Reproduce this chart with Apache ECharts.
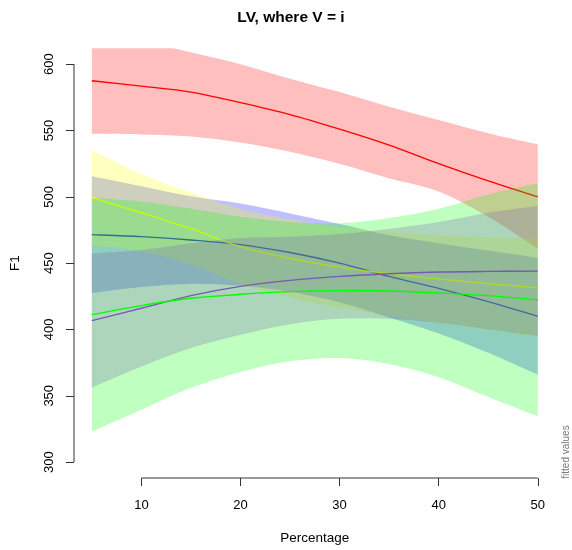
<!DOCTYPE html>
<html>
<head>
<meta charset="utf-8">
<script src="https://cdn.jsdelivr.net/npm/echarts@6/dist/echarts.min.js"></script>
<style>html,body{margin:0;padding:0;background:#fff}#c{width:572px;height:550px}</style>
</head>
<body>
<div id="c"></div>
<script>
// ---- data ----
const percentage = [5, 10, 15, 20, 25, 30, 35, 40, 45, 50];
const xTicks = [10, 20, 30, 40, 50];
const yTicks = [300, 350, 400, 450, 500, 550, 600];

const redFit   = [587.5, 583.5, 579, 571, 562, 551, 539, 525, 512, 500];
const redUpper = [628, 618, 609, 600, 589, 579, 568, 558, 548, 539.6];
const redLower = [547.5, 547, 545.5, 541, 534, 525, 514, 504, 485, 461];

const blueFit   = [471.5, 470, 467.5, 464, 458, 450, 440, 431, 421, 410];
const blueUpper = [515.5, 508, 500.5, 495, 487.5, 479.5, 471, 465, 459.5, 454];
const blueLower = [427.5, 432, 434.5, 433, 428.5, 420.5, 409, 397, 382.5, 366];

const yellowFit   = [499.5, 488, 476, 462.5, 453.5, 447, 442, 438, 434.5, 431.5];
const yellowUpper = [535.5, 517, 503, 491, 483, 477.5, 473.5, 471, 469.5, 468.5];
const yellowLower = [463.5, 459, 449, 434, 424, 416.5, 410.5, 405, 399.5, 394.5];

const purpleFit   = [406.7, 416, 425.5, 432.5, 437, 440, 442, 443.3, 443.8, 444];
const purpleUpper = [457.4, 460, 465, 469, 470, 472, 476, 481, 488, 493];
const purpleLower = [356, 372, 386, 396, 404, 408, 408, 405, 400, 395];

const greenFit   = [411.2, 418, 423.5, 426.5, 428.5, 429.3, 429, 427.5, 425.5, 422.4];
const greenUpper = [499.4, 496.5, 491, 485, 481, 480, 484, 491, 502, 510.3];
const greenLower = [323, 339.5, 356, 368, 376, 378.5, 374, 364, 349, 334.5];

const groups = [
  {name: 'red',    fit: redFit,    up: redUpper,    lo: redLower,    line: '#ff0000', fill: 'rgba(255,0,0,0.25)'},
  {name: 'blue',   fit: blueFit,   up: blueUpper,   lo: blueLower,   line: '#0000ff', fill: 'rgba(0,0,255,0.25)'},
  {name: 'yellow', fit: yellowFit, up: yellowUpper, lo: yellowLower, line: '#ffff00', fill: 'rgba(255,255,0,0.25)'},
  {name: 'purple', fit: purpleFit, up: purpleUpper, lo: purpleLower, line: '#a020f0', fill: 'rgba(160,32,240,0.25)'},
  {name: 'green',  fit: greenFit,  up: greenUpper,  lo: greenLower,  line: '#00ff00', fill: 'rgba(0,255,0,0.25)'}
];

const X_MIN = 3.2, X_MAX = 51.8, Y_MIN = 288, Y_MAX = 612;
const FONT = 'Liberation Sans, Arial, Helvetica, sans-serif';
const AXIS_COLOR = '#333';

// smooth curve (Catmull-Rom as cubic Bezier) through pixel points
function curvePath(pts, start) {
  let d = start ? 'M' + pts[0][0] + ' ' + pts[0][1] : 'L' + pts[0][0] + ' ' + pts[0][1];
  const n = pts.length;
  for (let i = 0; i < n - 1; i++) {
    const p0 = pts[Math.max(i - 1, 0)], p1 = pts[i], p2 = pts[i + 1], p3 = pts[Math.min(i + 2, n - 1)];
    const c1x = p1[0] + (p2[0] - p0[0]) / 6, c1y = p1[1] + (p2[1] - p0[1]) / 6;
    const c2x = p2[0] - (p3[0] - p1[0]) / 6, c2y = p2[1] - (p3[1] - p1[1]) / 6;
    d += ' C' + c1x + ' ' + c1y + ' ' + c2x + ' ' + c2y + ' ' + p2[0] + ' ' + p2[1];
  }
  return d;
}

const series = [];
groups.forEach(g => {
  // confidence band: data rows [x, lower, upper]
  series.push({
    type: 'custom', name: g.name + '-band', silent: true,
    data: percentage.map((x, i) => [x, g.lo[i], g.up[i]]),
    encode: {x: 0, y: [1, 2]},
    renderItem: function (params, api) {
      if (params.dataIndexInside !== 0) return null;
      const n = params.dataInsideLength;
      const up = [], lo = [];
      for (let i = 0; i < n; i++) {
        const x = api.value(0, i);
        lo.push(api.coord([x, api.value(1, i)]));
        up.push(api.coord([x, api.value(2, i)]));
      }
      const d = curvePath(up, true) + ' ' + curvePath(lo.slice().reverse(), false) + ' Z';
      const cs = params.coordSys;
      return {
        type: 'path',
        shape: {pathData: d},
        style: {fill: g.fill, stroke: null},
        clipPath: {type: 'rect', shape: {x: cs.x, y: cs.y, width: cs.width, height: cs.height}}
      };
    }
  });
  // fitted line: data rows [x, fit]
  series.push({
    type: 'custom', name: g.name, silent: true,
    data: percentage.map((x, i) => [x, g.fit[i]]),
    encode: {x: 0, y: 1},
    renderItem: function (params, api) {
      if (params.dataIndexInside !== 0) return null;
      const n = params.dataInsideLength;
      const pts = [];
      for (let i = 0; i < n; i++) pts.push(api.coord([api.value(0, i), api.value(1, i)]));
      const cs = params.coordSys;
      return {
        type: 'path',
        shape: {pathData: curvePath(pts, true)},
        style: {fill: null, stroke: g.line, lineWidth: 1.4},
        clipPath: {type: 'rect', shape: {x: cs.x, y: cs.y, width: cs.width, height: cs.height}}
      };
    }
  });
});
// axis lines (R style: span from first to last tick only)
series.push({
  type: 'line', clip: false, silent: true, showSymbol: false,
  data: [[xTicks[0], Y_MIN], [xTicks[xTicks.length - 1], Y_MIN]],
  lineStyle: {color: AXIS_COLOR, width: 1}
});
series.push({
  type: 'line', clip: false, silent: true, showSymbol: false,
  data: [[X_MIN, yTicks[0]], [X_MIN, yTicks[yTicks.length - 1]]],
  lineStyle: {color: AXIS_COLOR, width: 1}
});

const chart = echarts.init(document.getElementById('c'), null, {renderer: 'canvas'});
chart.setOption({
  animation: false,
  backgroundColor: '#fff',
  textStyle: {fontFamily: FONT},
  title: {
    text: 'LV, where V = i', left: 286, top: 5, textAlign: 'center',
    textStyle: {fontFamily: FONT, fontSize: 15.5, fontWeight: 'bold', color: '#000'}
  },
  grid: {left: 72.5, right: 16.4, top: 48.3, bottom: 68.3, containLabel: false},
  xAxis: {
    type: 'value', min: X_MIN, max: X_MAX,
    name: 'Percentage', nameLocation: 'middle', nameGap: 53,
    nameTextStyle: {fontFamily: FONT, fontSize: 13.5, color: '#000'},
    axisLine: {show: false},
    axisTick: {show: true, inside: false, length: 8, customValues: xTicks, lineStyle: {color: AXIS_COLOR}},
    axisLabel: {customValues: xTicks, margin: 21, fontFamily: FONT, fontSize: 13, color: '#000'},
    splitLine: {show: false}
  },
  yAxis: {
    type: 'value', min: Y_MIN, max: Y_MAX,
    name: 'F1', nameLocation: 'middle', nameGap: 52, nameRotate: 90,
    nameTextStyle: {fontFamily: FONT, fontSize: 13.5, color: '#000'},
    axisLine: {show: false},
    axisTick: {show: true, inside: false, length: 8, customValues: yTicks, lineStyle: {color: AXIS_COLOR}},
    axisLabel: {customValues: yTicks, rotate: 90, margin: 18, fontFamily: FONT, fontSize: 13, color: '#000'},
    splitLine: {show: false}
  },
  graphic: [{
    type: 'text', x: 566, y: 452, rotation: Math.PI / 2,
    style: {text: 'fitted values', fontFamily: FONT, fontSize: 10, fill: '#777', align: 'center', verticalAlign: 'middle'}
  }],
  series: series
});
</script>
</body>
</html>
